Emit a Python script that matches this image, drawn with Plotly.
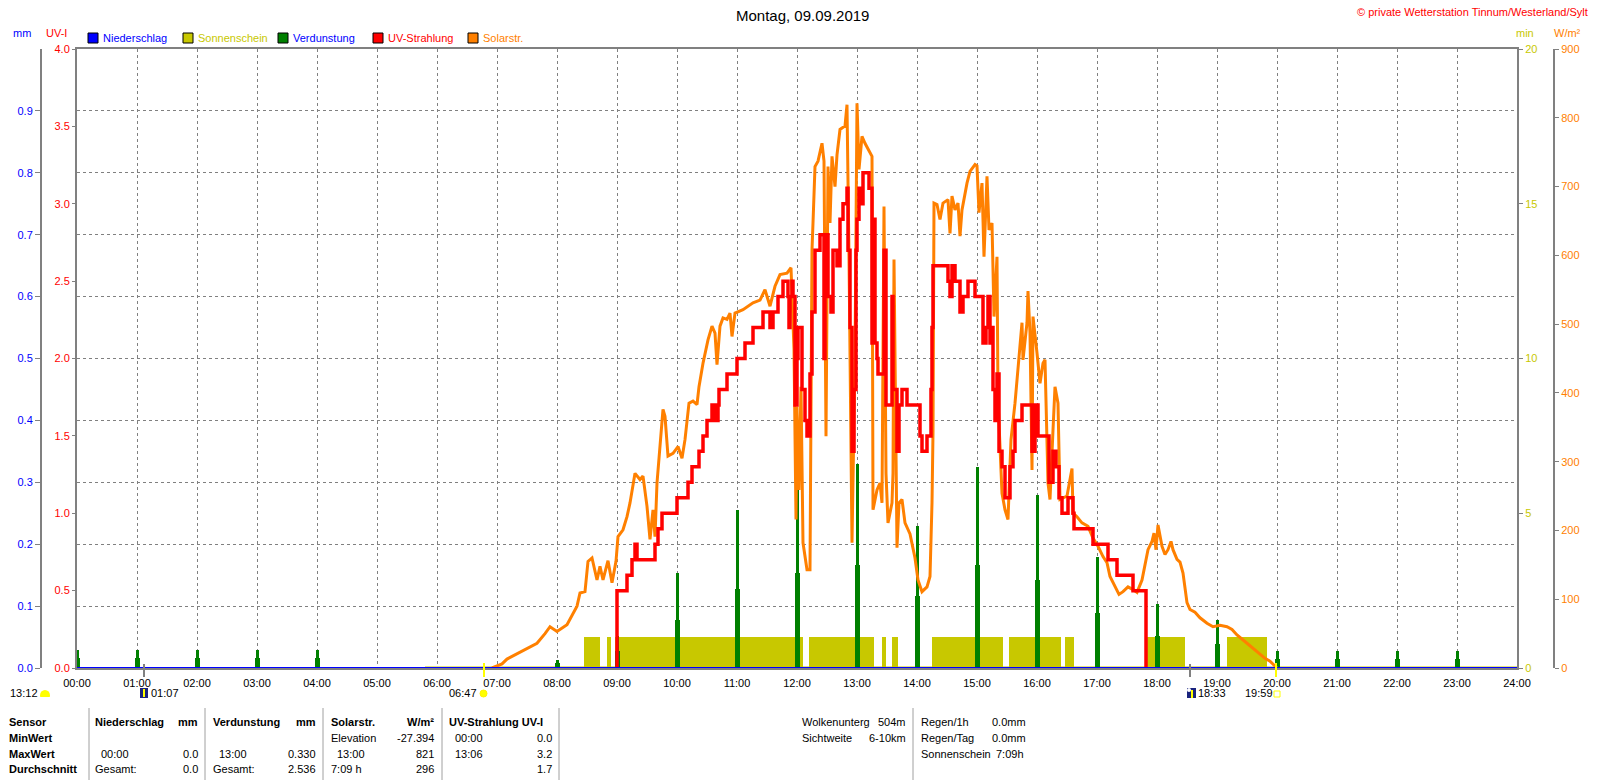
import plotly.graph_objects as go

W, H = 1600, 780
FONT = "Liberation Sans"

# ---------------- data ----------------
HOUR_TICKS = list(range(0, 1441, 60))
HOUR_LABELS = ["00:00", "01:00", "02:00", "03:00", "04:00", "05:00", "06:00", "07:00",
               "08:00", "09:00", "10:00", "11:00", "12:00", "13:00", "14:00", "15:00",
               "16:00", "17:00", "18:00", "19:00", "20:00", "21:00", "22:00", "23:00", "24:00"]

# Solar radiation W/m2 (time in minutes since midnight)
SOLAR_T = [415, 425, 430, 445, 460, 468, 473, 480, 490, 500, 503, 508, 511, 515, 520, 523, 526,
           531, 535, 539, 541, 546, 550, 553, 558, 563, 566, 570, 573, 576, 578, 580, 583, 586,
           588, 591, 596, 601, 605, 608, 612, 616, 620, 622, 626, 631, 635, 638, 640, 643, 646,
           650, 653, 655, 658, 666, 676, 683, 688, 693, 698, 703, 710, 714, 716, 717, 719, 720,
           722, 724, 726, 730, 733, 735, 736, 738, 741, 745, 747, 749, 751, 753, 755, 758, 760,
           763, 768, 770, 772, 775, 778, 780, 782, 785, 788, 791, 795, 796, 800, 803, 805, 807,
           809, 811, 815, 816, 817, 820, 822, 825, 828, 833, 838, 841, 845, 850, 853, 855, 856,
           857, 860, 863, 866, 871, 873, 875, 878, 881, 883, 885, 888, 890, 893, 898, 900, 902,
           905, 907, 910, 912, 915, 917, 920, 921, 925, 928, 931, 934, 938, 941, 945, 946, 950,
           951, 953, 955, 956, 960, 963, 966, 968, 971, 973, 976, 978, 981, 983, 990, 995, 996,
           1000, 1005, 1011, 1016, 1021, 1026, 1030, 1033, 1038, 1042, 1046, 1051, 1056, 1060,
           1065, 1068, 1071, 1075, 1077, 1079, 1081, 1085, 1088, 1091, 1094, 1096, 1100, 1103,
           1106, 1110, 1113, 1118, 1123, 1130, 1136, 1143, 1150, 1155, 1160, 1170, 1180, 1188,
           1193, 1200]
SOLAR_W = [0, 6, 13, 24, 36, 50, 60, 53, 63, 90, 109, 111, 155, 160, 128, 148, 128,
           156, 124, 155, 191, 201, 220, 240, 283, 274, 279, 235, 187, 230, 191, 269, 317, 376,
           366, 308, 312, 322, 305, 332, 385, 388, 383, 409, 443, 477, 497, 487, 441, 497, 509,
           507, 516, 482, 516, 521, 531, 535, 550, 526, 555, 572, 574, 582, 502, 463, 216, 380,
           259, 409, 182, 143, 143, 608, 647, 729, 737, 763, 737, 337, 729, 647, 744, 700, 746,
           783, 788, 819, 598, 182, 453, 821, 725, 773, 763, 754, 744, 230, 259, 269, 240, 671,
           283, 211, 240, 283, 594, 175, 240, 245, 211, 195, 160, 128, 111, 118, 133, 240, 342,
           676, 674, 652, 676, 681, 632, 686, 666, 676, 628, 666, 691, 705, 722, 732, 730, 662,
           705, 598, 715, 637, 647, 511, 598, 390, 254, 230, 216, 332, 385, 438, 502, 448, 502,
           548, 487, 288, 511, 458, 414, 443, 448, 269, 245, 346, 409, 385, 245, 250, 290, 225,
           220, 211, 206, 189, 177, 162, 153, 133, 119, 107, 111, 118, 114, 110,
           128, 153, 172, 184, 196, 172, 208, 177, 165, 172, 184, 172, 158, 154,
           138, 95, 85, 81, 73, 65, 60, 62, 60, 56, 48, 36, 23, 14,
           10, 0]

# UV index (step line)
UV_T = [539, 540, 550, 555, 558, 560, 578, 581, 585, 600, 611, 615, 622, 626, 630, 635, 638,
        641, 642, 650, 660, 668, 676, 686, 693, 696, 701, 706, 711, 712, 713, 715, 716, 718,
        720, 721, 725, 728, 730, 733, 735, 738, 743, 747, 748, 751, 754, 756, 760, 763, 766,
        770, 771, 773, 775, 777, 779, 780, 782, 785, 786, 792, 795, 796, 798, 800, 801, 807,
        809, 815, 816, 820, 822, 825, 830, 843, 845, 850, 854, 855, 856, 871, 873, 875, 878,
        883, 886, 891, 898, 906, 909, 911, 913, 915, 916, 918, 920, 922, 925, 928, 933, 936,
        938, 945, 955, 956, 958, 961, 972, 976, 979, 982, 985, 991, 996, 997, 1016, 1031, 1040,
        1056, 1069]
UV_I = [0.0, 0.5, 0.6, 0.7, 0.8, 0.7, 0.8, 0.9, 1.0, 1.1, 1.2, 1.3, 1.4, 1.5, 1.6, 1.7, 1.6,
        1.7, 1.8, 1.9, 2.0, 2.1, 2.2, 2.3, 2.2, 2.3, 2.4, 2.5, 2.4, 2.2, 2.4, 2.5, 2.4, 1.7,
        2.0, 2.2, 1.8, 1.6, 1.5, 1.9, 2.3, 2.7, 2.8, 2.0, 2.8, 2.4, 2.3, 2.7, 2.6, 2.9, 3.0,
        3.1, 2.7, 2.2, 1.4, 1.8, 2.7, 2.9, 3.1, 3.0, 3.2, 3.1, 2.1, 2.9, 2.1, 2.0, 1.9, 2.7,
        1.7, 2.4, 1.8, 1.4, 1.7, 1.8, 1.7, 1.5, 1.4, 1.5, 1.8, 2.2, 2.6, 2.5, 2.4, 2.6, 2.5,
        2.3, 2.4, 2.5, 2.4, 2.1, 2.2, 2.4, 2.1, 2.2, 1.8, 1.6, 1.9, 1.4, 1.3, 1.1, 1.3, 1.4,
        1.6, 1.7, 1.4, 1.4, 1.7, 1.5, 1.2, 1.4, 1.3, 1.1, 1.0, 1.1, 1.0, 0.9, 0.8, 0.7, 0.6,
        0.5, 0.0]

# Sunshine (minutes of sun per minute) intervals
SUN_START = [507, 530, 538, 732, 805, 815, 855, 932, 988, 1070, 1150]
SUN_END = [523, 534, 726, 797, 809, 821, 926, 984, 997, 1108, 1190]
SUN_MIN = [1.0, 1.0, 1.0, 1.0, 1.0, 1.0, 1.0, 1.0, 1.0, 1.0, 1.0]
SUN_ZERO_T = [348, 1440]
SUN_ZERO = [0, 0]

# Evaporation (mm), hourly
EVAP_T = [0, 60, 120, 180, 240, 480, 540, 600, 660, 720, 780, 840, 900, 960, 1020, 1080,
          1140, 1200, 1260, 1320, 1380]
EVAP_MM = [0.029, 0.029, 0.029, 0.029, 0.029, 0.013, 0.052, 0.153, 0.255, 0.307, 0.330,
           0.230, 0.325, 0.280, 0.179, 0.103, 0.077, 0.027, 0.027, 0.027, 0.027]
EVAP_LOW_MM = [0.016, 0.016, 0.016, 0.016, 0.016, 0.008, 0.027, 0.077, 0.128, 0.153, 0.167,
               0.116, 0.167, 0.142, 0.089, 0.051, 0.039, 0.014, 0.014, 0.014, 0.014]

# Precipitation (mm)
RAIN_T = [0, 1440]
RAIN_MM = [0.0, 0.0]

MM_TICKS = [0.0, 0.1, 0.2, 0.3, 0.4, 0.5, 0.6, 0.7, 0.8, 0.9]
UV_TICKS = [0.0, 0.5, 1.0, 1.5, 2.0, 2.5, 3.0, 3.5, 4.0]
MIN_TICKS = [0, 5, 10, 15, 20]
WM2_TICKS = [0, 100, 200, 300, 400, 500, 600, 700, 800, 900]

EVENTS = {"moonset": 67, "sunrise": 407, "moonrise": 1113, "sunset": 1199}

# ---------------- colours ----------------
BLUE = "#0000FF"
OLIVE = "#C8C800"
GREEN = "#008000"
RED = "#FF0000"
ORANGE = "#FF8000"
GRAY = "#808080"
NAVY = "#1A237E"
YELLOW = "#FFFF00"

# ---------------- geometry ----------------
X0, X1 = 77, 1517
Y0, Y1 = 668, 49  # bottom, top pixel


def px(x):
    return x / W


def py(y):
    return 1 - y / H


fig = go.Figure()

# sunshine (main y)
fig.add_trace(go.Scatter(x=SUN_ZERO_T, y=SUN_ZERO, mode="lines",
                         line=dict(color=OLIVE, width=3), yaxis="y", hoverinfo="skip"))
fig.add_trace(go.Bar(x=[(s + e) / 2 for s, e in zip(SUN_START, SUN_END)],
                     width=[e - s for s, e in zip(SUN_START, SUN_END)],
                     y=SUN_MIN, marker=dict(color=OLIVE, line=dict(width=0)), yaxis="y"))
# evaporation (y2)
fig.add_trace(go.Bar(x=EVAP_T, y=EVAP_LOW_MM, width=5,
                     marker=dict(color=GREEN, line=dict(width=0)), yaxis="y2"))
fig.add_trace(go.Bar(x=EVAP_T, y=EVAP_MM, width=3,
                     marker=dict(color=GREEN, line=dict(width=0)), yaxis="y2"))
# solar (y3)
fig.add_trace(go.Scatter(x=SOLAR_T, y=SOLAR_W, mode="lines",
                         line=dict(color=ORANGE, width=3), yaxis="y3"))
# UV (y4)
fig.add_trace(go.Scatter(x=UV_T, y=UV_I, mode="lines", line_shape="hv",
                         line=dict(color=RED, width=3.5), yaxis="y4"))
# precipitation (y5)
fig.add_trace(go.Scatter(x=RAIN_T, y=RAIN_MM, mode="lines",
                         line=dict(color=BLUE, width=2), yaxis="y5"))

dom_x = [px(X0), px(X1)]
dom_y = [py(Y0), py(Y1)]

fig.update_layout(
    width=W, height=H, autosize=False,
    margin=dict(l=0, r=0, t=0, b=0, pad=0),
    paper_bgcolor="white", plot_bgcolor="white",
    showlegend=False, barmode="overlay", bargap=0,
    font=dict(family=FONT, size=11, color="black"),
    xaxis=dict(domain=dom_x, range=[0, 1440], tickvals=HOUR_TICKS, ticktext=HOUR_LABELS,
               showgrid=True, gridcolor=GRAY, griddash="3px,3px", gridwidth=1,
               showline=True, mirror=True, linecolor=GRAY, linewidth=2,
               ticks="", ticklabelstandoff=4, zeroline=False,
               tickfont=dict(family=FONT, size=11, color="black"),
               automargin=False, fixedrange=True),
    yaxis=dict(domain=dom_y, range=[0, 20], tickvals=MIN_TICKS, side="right", anchor="x",
               showgrid=False, zeroline=False, showline=True, mirror=True,
               linecolor=GRAY, linewidth=2, ticks="outside", ticklen=4, tickcolor=GRAY,
               tickfont=dict(family=FONT, size=11, color=OLIVE), automargin=False),
    yaxis2=dict(domain=dom_y, range=[0, 1], tickvals=MM_TICKS, tickformat=".1f",
                overlaying="y", anchor="free", position=px(41), side="left",
                showgrid=True, gridcolor=GRAY, griddash="3px,3px", gridwidth=1,
                zeroline=False, showline=True, linecolor=GRAY, linewidth=2,
                ticks="outside", ticklen=5, tickcolor=GRAY,
                tickfont=dict(family=FONT, size=11, color=BLUE), automargin=False),
    yaxis3=dict(domain=dom_y, range=[0, 900], tickvals=WM2_TICKS,
                overlaying="y", anchor="free", position=px(1554), side="right",
                showgrid=False, zeroline=False, showline=True, linecolor=GRAY, linewidth=2,
                ticks="outside", ticklen=4, tickcolor=GRAY,
                tickfont=dict(family=FONT, size=11, color=ORANGE), automargin=False),
    yaxis4=dict(domain=dom_y, range=[0, 4], tickvals=UV_TICKS, tickformat=".1f",
                overlaying="y", anchor="x", side="left",
                showgrid=False, zeroline=False, showline=False,
                ticks="outside", ticklen=4, tickcolor=GRAY,
                tickfont=dict(family=FONT, size=11, color=RED), automargin=False),
    yaxis5=dict(domain=dom_y, range=[0, 1], overlaying="y", anchor="x", visible=False),
)


def ann(text, x, y, color="black", size=11, xanchor="left", bold=False):
    fig.add_annotation(text=("<b>%s</b>" % text) if bold else text,
                       x=x / W, y=py(y), xref="paper", yref="paper",
                       xanchor=xanchor, yanchor="middle",
                       showarrow=False, borderpad=0,
                       font=dict(family=FONT, size=size, color=color))


def rect(x0, y0, x1, y1, fill, line=None, lw=1):
    fig.add_shape(type="rect", xref="paper", yref="paper",
                  x0=px(x0), x1=px(x1), y0=py(y1), y1=py(y0),
                  fillcolor=fill, line=dict(color=line or fill, width=lw if line else 0))


def seg(x0, y0, x1, y1, color, width=1):
    fig.add_shape(type="line", xref="paper", yref="paper", x0=px(x0), x1=px(x1),
                  y0=py(y0), y1=py(y1), line=dict(color=color, width=width))


# title and header texts
ann("Montag, 09.09.2019", 802, 15, size=15, xanchor="center")
ann("© private Wetterstation Tinnum/Westerland/Sylt", 1589, 12, color=RED, xanchor="right")
ann("mm", 22, 33, color=BLUE, xanchor="center")
ann("UV-I", 57, 33, color=RED, xanchor="center")
ann("min", 1525, 33, color=OLIVE, xanchor="center")
ann("W/m²", 1567, 33, color=ORANGE, xanchor="center")

# legend
LEGEND = [("Niederschlag", BLUE, BLUE, 88), ("Sonnenschein", OLIVE, OLIVE, 183),
          ("Verdunstung", GREEN, BLUE, 278), ("UV-Strahlung", RED, RED, 373),
          ("Solarstr.", ORANGE, ORANGE, 468)]
for name, sq, tc, lx in LEGEND:
    rect(lx, 33, lx + 10, 43, sq, line="black", lw=1)
    ann(name, lx + 14, 38, color=tc)

# event markers below the axis
for key in ("moonset", "moonrise"):
    t = EVENTS[key]
    fig.add_shape(type="line", xref="x", yref="paper", x0=t, x1=t, y0=py(677), y1=py(664),
                  line=dict(color=GRAY, width=2))
for key in ("sunrise", "sunset"):
    t = EVENTS[key]
    fig.add_shape(type="line", xref="x", yref="paper", x0=t, x1=t, y0=py(677), y1=py(663),
                  line=dict(color=YELLOW, width=2))


def clock(m):
    return "%02d:%02d" % (m // 60, m % 60)


# max-sun marker 13:12 (half sun)
ann("13:12", 9, 693)
fig.add_shape(type="circle", xref="paper", yref="paper", x0=px(40), x1=px(50),
              y0=py(701), y1=py(690), fillcolor=YELLOW, line=dict(width=0))
rect(39, 697, 51, 703, "white")

# moonset 01:07
rect(140, 688, 148, 698, NAVY)
seg(144, 689, 144, 697, YELLOW, 2)
ann(clock(EVENTS["moonset"]), 150, 693)
# sunrise 06:47
ann(clock(EVENTS["sunrise"]), 478, 693, xanchor="right")
fig.add_shape(type="circle", xref="paper", yref="paper", x0=px(480), x1=px(487),
              y0=py(697), y1=py(690), fillcolor=YELLOW, line=dict(color="#FFF200", width=1))
# moonrise 18:33
rect(1187, 688, 1196, 698, NAVY)
seg(1192, 690, 1192, 698, YELLOW, 2)
fig.add_shape(type="circle", xref="paper", yref="paper", x0=px(1187), x1=px(1191),
              y0=py(692), y1=py(688), fillcolor="white", line=dict(width=0))
ann(clock(EVENTS["moonrise"]), 1197, 693)
# sunset 19:59
ann(clock(EVENTS["sunset"]), 1244, 693)
rect(1274, 691, 1280, 697, "white", line=YELLOW, lw=1)

# ---- bottom table ----
for sx in (89, 205, 323, 442, 559, 913):
    seg(sx, 708, sx, 780, "#A0A0A0", 1)

ROWS = [722, 738, 754, 769]
for label, ry in zip(["Sensor", "MinWert", "MaxWert", "Durchschnitt"], ROWS):
    ann(label, 8, ry, bold=True)

ann("Niederschlag", 94, ROWS[0], bold=True)
ann("mm", 199, ROWS[0], bold=True, xanchor="right")
ann("00:00", 100, ROWS[2])
ann("0.0", 199, ROWS[2], xanchor="right")
ann("Gesamt:", 94, ROWS[3])
ann("0.0", 199, ROWS[3], xanchor="right")

ann("Verdunstung", 212, ROWS[0], bold=True)
ann("mm", 317, ROWS[0], bold=True, xanchor="right")
ann("13:00", 218, ROWS[2])
ann("0.330", 317, ROWS[2], xanchor="right")
ann("Gesamt:", 212, ROWS[3])
ann("2.536", 317, ROWS[3], xanchor="right")

ann("Solarstr.", 330, ROWS[0], bold=True)
ann("W/m²", 435, ROWS[0], bold=True, xanchor="right")
ann("Elevation", 330, ROWS[1])
ann("-27.394", 435, ROWS[1], xanchor="right")
ann("13:00", 336, ROWS[2])
ann("821", 435, ROWS[2], xanchor="right")
ann("7:09 h", 330, ROWS[3])
ann("296", 435, ROWS[3], xanchor="right")

ann("UV-Strahlung UV-I", 448, ROWS[0], bold=True)
ann("00:00", 454, ROWS[1])
ann("0.0", 553, ROWS[1], xanchor="right")
ann("13:06", 454, ROWS[2])
ann("3.2", 553, ROWS[2], xanchor="right")
ann("1.7", 553, ROWS[3], xanchor="right")

ann("Wolkenunterg", 801, ROWS[0])
ann("504m", 907, ROWS[0], xanchor="right")
ann("Sichtweite", 801, ROWS[1])
ann("6-10km", 907, ROWS[1], xanchor="right")

ann("Regen/1h", 920, ROWS[0])
ann("0.0mm", 991, ROWS[0])
ann("Regen/Tag", 920, ROWS[1])
ann("0.0mm", 991, ROWS[1])
ann("Sonnenschein", 920, ROWS[2])
ann("7:09h", 995, ROWS[2])

fig.write_html("out.html", config={"displayModeBar": False},
               post_script="document.body.style.margin='0';document.body.style.overflow='hidden';")
